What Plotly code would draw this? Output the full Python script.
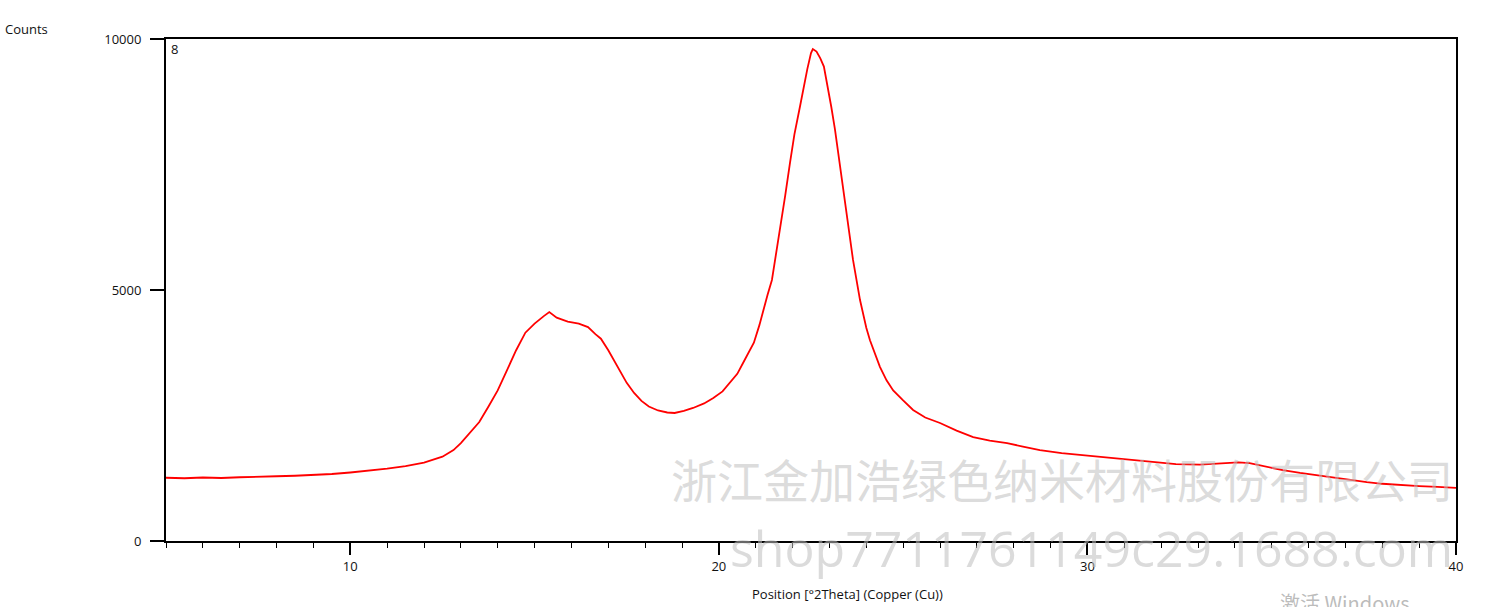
import plotly.graph_objects as go

# ---- data (2Theta in degrees, counts) ----
two_theta = [5.0, 5.5, 6.0, 6.5, 7.0, 7.5, 8.0, 8.5, 9.0, 9.5, 10.0, 10.5, 11.0, 11.5, 12.0,
             12.5, 12.8, 13.0, 13.25, 13.5, 13.75, 14.0, 14.25, 14.5, 14.75, 15.0, 15.25,
             15.4, 15.6, 15.9, 16.2, 16.45, 16.65, 16.8, 17.0, 17.15, 17.35, 17.5, 17.7,
             17.9, 18.1, 18.35, 18.6, 18.8, 19.05, 19.3, 19.6, 19.85, 20.1, 20.3, 20.5,
             20.66, 20.8, 20.95, 21.1, 21.2, 21.32, 21.44, 21.55, 21.66, 21.8, 21.93,
             22.05, 22.2, 22.3, 22.4, 22.5, 22.55, 22.65, 22.75, 22.85, 22.95, 23.05,
             23.15, 23.3, 23.48, 23.64, 23.83, 24.0, 24.1, 24.37, 24.55, 24.73, 25.0,
             25.27, 25.6, 26.0, 26.45, 26.9, 27.35, 27.82, 28.25, 28.71, 29.3, 30.26,
             30.9, 31.7, 32.4, 33.05, 33.6, 34.1, 34.4, 34.87, 35.3, 35.77, 36.2, 36.66,
             37.1, 37.58, 38.0, 38.48, 39.0, 39.5, 40.0]
counts = [1260, 1250, 1265, 1255, 1270, 1275, 1290, 1300, 1315, 1335, 1365, 1395, 1440, 1490, 1560,
          1680, 1810, 1950, 2150, 2370, 2680, 3000, 3400, 3800, 4150, 4330, 4480,
          4560, 4450, 4370, 4330, 4260, 4120, 4030, 3800, 3600, 3350, 3150, 2950,
          2790, 2680, 2600, 2560, 2550, 2590, 2650, 2740, 2850, 2980, 3150, 3330,
          3550, 3750, 3950, 4300, 4600, 4900, 5200, 5700, 6200, 6880, 7530,
          8100, 8650, 9050, 9400, 9720, 9800, 9750, 9620, 9450, 9080, 8650,
          8200, 7400, 6400, 5600, 4800, 4250, 4000, 3470, 3200, 3000, 2800,
          2610, 2460, 2350, 2200, 2070, 2000, 1950, 1880, 1810, 1750, 1680,
          1630, 1580, 1530, 1520, 1540, 1565, 1550, 1475, 1410, 1355, 1310, 1275,
          1220, 1175, 1140, 1115, 1095, 1080, 1060]

x_ticks = [10, 20, 30, 40]
y_ticks = [0, 5000, 10000]
y_tick_text = ["0", "5000", "10000"]

# ---- layout geometry (pixels) ----
W, H = 1503, 607
L, R, T, B = 166, 1456, 39, 541


def px(x):
    return (x - L) / (R - L)


def py(y):
    return (B - y) / (B - T)


FONT = "Open Sans, Noto Sans, sans-serif"

fig = go.Figure()
fig.add_trace(go.Scatter(x=two_theta, y=counts, mode="lines",
                         line=dict(color="#ff0000", width=1.8), hoverinfo="x+y"))

axis_common = dict(showline=True, linecolor="black", linewidth=2, mirror=True,
                   showgrid=False, zeroline=False, ticks="outside", tickcolor="black",
                   tickwidth=1.5, tickfont=dict(family=FONT, size=13, color="#111"))

fig.update_layout(
    width=W, height=H,
    margin=dict(l=L, r=W - R, t=T, b=H - B, pad=0),
    paper_bgcolor="white", plot_bgcolor="white",
    showlegend=False,
    xaxis=dict(range=[5, 40], tickvals=x_ticks, ticklen=12,
               minor=dict(ticks="outside", ticklen=5, dtick=1, tick0=5,
                          tickcolor="black", tickwidth=1.2),
               **axis_common),
    yaxis=dict(range=[0, 10000], tickvals=y_ticks, ticktext=y_tick_text, ticklen=14,
               ticklabelstandoff=6, **axis_common),
)

annos = [
    dict(text="Counts", x=px(3), y=py(29), xanchor="left", yanchor="middle",
         font=dict(family=FONT, size=13, color="#111")),
    dict(text="8", x=px(169), y=py(49), xanchor="left", yanchor="middle",
         font=dict(family=FONT, size=13, color="#111")),
    dict(text="Position [°2Theta] (Copper (Cu))", x=px(847), y=py(594),
         xanchor="center", yanchor="middle",
         font=dict(family=FONT, size=13, color="#111")),
    # watermarks
    dict(text="浙江金加浩绿色纳米材料股份有限公司", x=px(1455), y=py(478),
         xanchor="right", yanchor="middle",
         font=dict(family="Noto Sans CJK SC", size=46, color="rgba(190,190,190,0.55)")),
    dict(text="shop7711761149c29.1688.com", x=px(1455), y=py(548),
         xanchor="right", yanchor="middle",
         font=dict(family="Open Sans, sans-serif", size=50, color="rgba(190,190,190,0.55)")),
    dict(text="激活 Windows", x=px(1278), y=py(586),
         xanchor="left", yanchor="top",
         font=dict(family="Noto Sans CJK SC", size=20, color="rgba(170,170,170,0.8)")),
]
for a in annos:
    a.update(xref="paper", yref="paper", showarrow=False)
    fig.add_annotation(**a)

fig.write_html("out.html", config={"displayModeBar": False},
               post_script="document.body.style.margin='0';document.body.style.overflow='hidden';")
